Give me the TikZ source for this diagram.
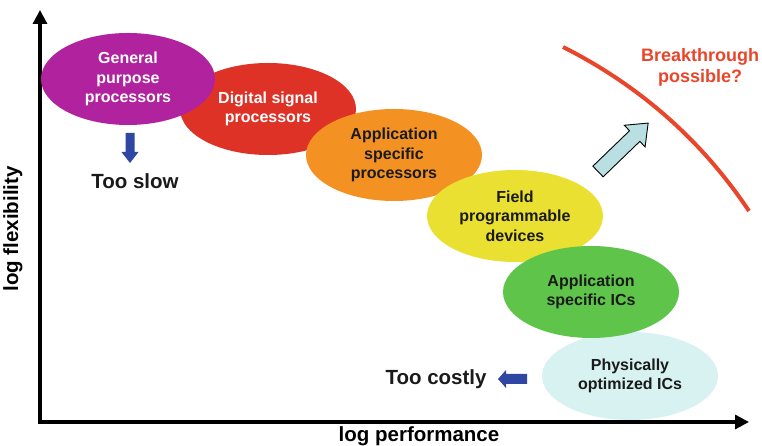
\documentclass[tikz,border=0pt]{standalone}
\usepackage{fontspec}
\setmainfont{Liberation Sans}
\usetikzlibrary{shapes.geometric,arrows.meta}

\definecolor{gppPurple}{HTML}{B0229E}
\definecolor{dspRed}{HTML}{DE3226}
\definecolor{aspOrange}{HTML}{F39223}
\definecolor{fpdYellow}{HTML}{E9E032}
\definecolor{asicGreen}{HTML}{5EC54A}
\definecolor{physCyan}{HTML}{D7F2F1}
\definecolor{hintBlue}{HTML}{2F47A3}
\definecolor{paleArrow}{HTML}{B9DFE2}
\definecolor{limitRed}{HTML}{E8452A}
\definecolor{inkDark}{HTML}{1A1A1A}

\begin{document}
\begin{tikzpicture}[x=1pt,y=1pt,
  blob/.style={ellipse, inner sep=0pt, minimum width=176pt, minimum height=92pt,
    align=center, font=\bfseries\fontsize{16}{19.5}\selectfont, text=inkDark},
  bigtext/.style={font=\bfseries\fontsize{20.5}{24}\selectfont, text=inkDark, inner sep=0pt},
  axisline/.style={line width=3.2pt, line join=miter,
    {Triangle[length=14pt,width=14pt]}-{Triangle[length=14pt,width=14pt]}},
  hint/.style={fill=hintBlue},
]
\useasboundingbox (0,0) rectangle (762,446);

% axes
\coordinate (ytop) at (40,436);
\coordinate (xend) at (749,24);
\draw[axisline] (ytop) |- (xend);
\node[rotate=90, anchor=base, font=\bfseries\fontsize{20.5}{24}\selectfont, inner sep=0pt]
  (ylab) at (18,217) {log flexibility};
\node[anchor=base, font=\bfseries\fontsize{20.5}{24}\selectfont, inner sep=0pt]
  (xlab) at (419,4.5) {log performance};

% technology ellipses, back to front
\node[blob, fill=dspRed, text=white] (dsp) at (268,337) {Digital signal\\processors};
\node[blob, fill=gppPurple, text=white, minimum width=174pt] (gpp) at (128,367) {General\\purpose\\processors};
\node[blob, fill=physCyan, minimum height=88pt] (phys) at (630,70) {Physically\\optimized ICs};
\node[blob, fill=aspOrange] (asp) at (394,291) {Application\\specific\\processors};
\node[blob, fill=fpdYellow] (fpd) at (515,230) {Field\\programmable\\devices};
\node[blob, fill=asicGreen] (asic) at (591,154) {Application\\specific ICs};

% verdicts
\node[bigtext] (slow) at (135,265) {Too slow};
\node[bigtext] (costly) at (436,67) {Too costly};

% small blue block arrows
\fill[hint] (125.5,313) -- (134.5,313) -- (134.5,294) -- (138.5,294)
  -- (130,283) -- (121.5,294) -- (125.5,294) -- cycle;
\fill[hint] (527,72) -- (506,72) -- (506,76) -- (498,67)
  -- (506,58) -- (506,62) -- (527,62) -- cycle;

% breakthrough boundary
\coordinate (arcA) at (563,399);
\coordinate (arcB) at (749,235);
\draw[limitRed, line width=4pt] (arcA) .. controls (639,360.7) and (701.4,306.1) .. (arcB);
\node[align=center, text=limitRed, font=\bfseries\fontsize{18}{21}\selectfont]
  (brk) at (700,378.5) {Breakthrough\\possible?};

% pale arrow pointing at the boundary
\begin{scope}[shift={(598,274.5)}, rotate=44]
  \filldraw[fill=paleArrow, draw=black, line width=0.9pt, line join=miter]
    (0,-7.4) -- (51,-7.4) -- (51,-15) -- (69.7,0) -- (51,15) -- (51,7.4) -- (0,7.4) -- cycle;
\end{scope}
\end{tikzpicture}
\end{document}
